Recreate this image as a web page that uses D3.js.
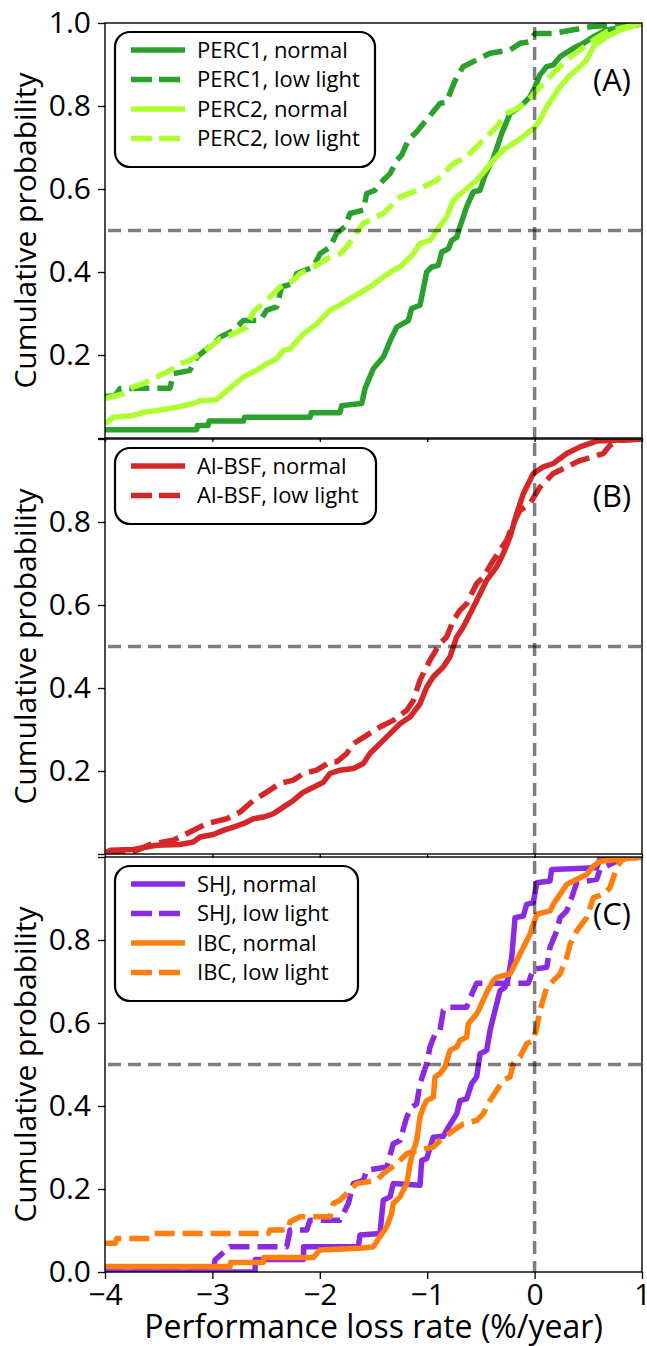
<!DOCTYPE html>
<html>
<head>
<meta charset="utf-8">
<script src="https://cdn.jsdelivr.net/npm/d3@7"></script>
<style>
  body { margin: 0; background: #fff; }
  text { font-family: "Open Sans", sans-serif; fill: #000; }
</style>
</head>
<body>
<svg width="647" height="1346"></svg>
<script>
// values, [performance loss rate, cumulative probability]
var perc1Normal = [[-4,0.020],[-3.146,0.020],[-3.14,0.030],[-3.04,0.030],[-3.03,0.041],[-2.71,0.041],[-2.70,0.050],[-2.09,0.050],[-2.08,0.061],[-1.812,0.061],[-1.796,0.078],[-1.61,0.083],[-1.579,0.119],[-1.502,0.167],[-1.409,0.195],[-1.330,0.243],[-1.284,0.267],[-1.176,0.283],[-1.145,0.312],[-1.067,0.320],[-1.005,0.400],[-0.958,0.412],[-0.897,0.416],[-0.865,0.448],[-0.803,0.456],[-0.772,0.476],[-0.725,0.484],[-0.695,0.509],[-0.633,0.557],[-0.571,0.593],[-0.508,0.597],[-0.462,0.633],[-0.384,0.674],[-0.306,0.734],[-0.229,0.782],[-0.136,0.798],[-0.043,0.822],[0.004,0.846],[0.050,0.875],[0.113,0.895],[0.174,0.899],[0.237,0.919],[0.360,0.939],[0.454,0.951],[0.547,0.967],[0.671,0.983],[0.951,0.995],[1.0,1.0]];
var perc1Low = [[-4,0.100],[-3.907,0.102],[-3.860,0.119],[-3.395,0.120],[-3.364,0.155],[-3.209,0.163],[-3.146,0.195],[-2.992,0.227],[-2.929,0.243],[-2.805,0.259],[-2.712,0.283],[-2.557,0.283],[-2.494,0.308],[-2.401,0.316],[-2.355,0.364],[-2.246,0.373],[-2.215,0.396],[-2.060,0.412],[-1.998,0.444],[-1.905,0.460],[-1.843,0.493],[-1.765,0.509],[-1.719,0.541],[-1.595,0.549],[-1.563,0.589],[-1.486,0.597],[-1.409,0.621],[-1.346,0.637],[-1.284,0.669],[-1.237,0.682],[-1.176,0.718],[-1.098,0.738],[-0.958,0.782],[-0.881,0.806],[-0.818,0.810],[-0.772,0.842],[-0.725,0.870],[-0.664,0.895],[-0.539,0.911],[-0.415,0.927],[-0.229,0.935],[-0.136,0.951],[-0.043,0.955],[0.004,0.975],[0.174,0.975],[0.516,0.991],[1.0,1.0]];
var perc2Normal = [[-4,0.034],[-3.922,0.050],[-3.736,0.054],[-3.643,0.062],[-3.519,0.066],[-3.332,0.074],[-3.178,0.083],[-3.115,0.090],[-2.960,0.092],[-2.898,0.107],[-2.805,0.127],[-2.712,0.147],[-2.588,0.163],[-2.494,0.179],[-2.401,0.191],[-2.340,0.211],[-2.277,0.215],[-2.153,0.251],[-2.029,0.275],[-1.905,0.308],[-1.843,0.316],[-1.688,0.340],[-1.533,0.364],[-1.409,0.388],[-1.316,0.404],[-1.253,0.412],[-1.129,0.444],[-1.067,0.469],[-0.974,0.476],[-0.897,0.505],[-0.818,0.533],[-0.757,0.573],[-0.633,0.601],[-0.539,0.621],[-0.384,0.669],[-0.291,0.694],[-0.198,0.710],[-0.105,0.726],[0.004,0.750],[0.050,0.766],[0.113,0.798],[0.174,0.822],[0.237,0.846],[0.314,0.870],[0.423,0.895],[0.485,0.911],[0.547,0.943],[0.671,0.967],[0.795,0.983],[1.0,1.0]];
var perc2Low = [[-4,0.095],[-3.829,0.107],[-3.736,0.123],[-3.643,0.131],[-3.550,0.143],[-3.395,0.163],[-3.302,0.179],[-3.209,0.187],[-3.115,0.203],[-3.022,0.219],[-2.929,0.239],[-2.805,0.251],[-2.681,0.267],[-2.619,0.304],[-2.494,0.332],[-2.371,0.364],[-2.246,0.380],[-2.184,0.396],[-2.060,0.412],[-1.905,0.436],[-1.812,0.444],[-1.750,0.460],[-1.688,0.484],[-1.595,0.517],[-1.409,0.541],[-1.346,0.557],[-1.253,0.581],[-1.129,0.593],[-1.005,0.609],[-0.912,0.621],[-0.850,0.637],[-0.757,0.661],[-0.633,0.678],[-0.539,0.702],[-0.446,0.726],[-0.353,0.750],[-0.260,0.782],[-0.136,0.798],[-0.043,0.818],[0.050,0.846],[0.174,0.879],[0.299,0.911],[0.423,0.935],[0.547,0.959],[0.671,0.979],[1.0,1.0]];

var bsfNormal = [[-4,0.002],[-3.953,0.009],[-3.736,0.011],[-3.612,0.017],[-3.519,0.021],[-3.302,0.023],[-3.178,0.029],[-3.115,0.041],[-2.992,0.047],[-2.898,0.057],[-2.805,0.065],[-2.712,0.073],[-2.619,0.085],[-2.526,0.089],[-2.433,0.097],[-2.340,0.113],[-2.246,0.129],[-2.153,0.149],[-2.060,0.161],[-1.967,0.173],[-1.905,0.194],[-1.812,0.202],[-1.688,0.206],[-1.595,0.218],[-1.533,0.242],[-1.440,0.266],[-1.346,0.290],[-1.253,0.314],[-1.160,0.330],[-1.067,0.362],[-1.005,0.402],[-0.943,0.427],[-0.850,0.451],[-0.788,0.475],[-0.725,0.523],[-0.664,0.547],[-0.601,0.579],[-0.539,0.611],[-0.446,0.660],[-0.353,0.692],[-0.291,0.724],[-0.229,0.764],[-0.167,0.820],[-0.105,0.868],[-0.012,0.917],[0.081,0.933],[0.174,0.941],[0.299,0.965],[0.423,0.981],[0.578,0.995],[1.0,1.0]];
var bsfLow = [[-4,0.0],[-3.736,0.005],[-3.581,0.023],[-3.364,0.033],[-3.240,0.049],[-3.054,0.073],[-2.867,0.085],[-2.743,0.101],[-2.619,0.129],[-2.494,0.149],[-2.371,0.170],[-2.246,0.178],[-2.153,0.194],[-2.029,0.202],[-1.905,0.222],[-1.843,0.222],[-1.750,0.242],[-1.688,0.266],[-1.564,0.286],[-1.440,0.306],[-1.316,0.322],[-1.191,0.346],[-1.129,0.370],[-1.067,0.419],[-0.974,0.467],[-0.881,0.507],[-0.819,0.523],[-0.757,0.563],[-0.695,0.587],[-0.633,0.603],[-0.539,0.652],[-0.478,0.667],[-0.384,0.708],[-0.322,0.732],[-0.260,0.756],[-0.198,0.796],[-0.136,0.828],[-0.043,0.844],[0.050,0.884],[0.174,0.917],[0.299,0.933],[0.423,0.948],[0.640,0.965],[0.702,0.985],[0.795,0.997],[1.0,1.0]];

var shjNormal = [[-4,0.0],[-2.603,0.0],[-2.600,0.030],[-2.153,0.030],[-2.150,0.061],[-1.641,0.061],[-1.626,0.089],[-1.440,0.093],[-1.409,0.173],[-1.346,0.181],[-1.316,0.213],[-1.067,0.209],[-1.051,0.269],[-1.005,0.273],[-0.943,0.325],[-0.850,0.327],[-0.803,0.349],[-0.725,0.381],[-0.695,0.413],[-0.633,0.417],[-0.586,0.454],[-0.539,0.470],[-0.508,0.526],[-0.446,0.534],[-0.415,0.582],[-0.369,0.630],[-0.322,0.678],[-0.276,0.686],[-0.245,0.710],[-0.213,0.758],[-0.182,0.854],[-0.105,0.858],[-0.074,0.886],[-0.012,0.890],[0.020,0.938],[0.143,0.942],[0.159,0.970],[0.578,0.974],[0.609,0.997],[1.0,1.0]];
var shjLow = [[-4,0.0],[-2.992,0.0],[-2.976,0.029],[-2.836,0.061],[-2.308,0.061],[-2.277,0.101],[-2.122,0.101],[-2.091,0.125],[-1.812,0.125],[-1.734,0.165],[-1.688,0.213],[-1.595,0.221],[-1.564,0.245],[-1.377,0.253],[-1.316,0.309],[-1.253,0.317],[-1.191,0.373],[-1.145,0.397],[-1.098,0.405],[-1.067,0.454],[-1.005,0.502],[-0.974,0.542],[-0.927,0.574],[-0.881,0.582],[-0.850,0.630],[-0.818,0.638],[-0.633,0.638],[-0.571,0.678],[-0.539,0.696],[-0.058,0.696],[-0.012,0.730],[0.113,0.734],[0.143,0.782],[0.206,0.822],[0.237,0.854],[0.299,0.870],[0.345,0.902],[0.392,0.938],[0.578,0.946],[0.609,0.970],[0.795,0.994],[1.0,1.0]];
var ibcNormal = [[-4,0.013],[-2.836,0.013],[-2.830,0.023],[-2.526,0.023],[-2.520,0.035],[-2.060,0.035],[-2.000,0.053],[-1.626,0.057],[-1.502,0.061],[-1.440,0.085],[-1.377,0.109],[-1.331,0.141],[-1.316,0.165],[-1.253,0.181],[-1.191,0.213],[-1.160,0.261],[-1.129,0.293],[-1.098,0.317],[-1.067,0.373],[-1.036,0.397],[-1.005,0.413],[-0.943,0.421],[-0.927,0.470],[-0.881,0.478],[-0.834,0.494],[-0.788,0.534],[-0.725,0.542],[-0.695,0.558],[-0.633,0.566],[-0.617,0.598],[-0.539,0.622],[-0.508,0.638],[-0.446,0.674],[-0.384,0.702],[-0.353,0.710],[-0.229,0.718],[-0.167,0.750],[-0.105,0.782],[-0.043,0.814],[0.020,0.862],[0.143,0.870],[0.174,0.886],[0.237,0.910],[0.299,0.934],[0.423,0.950],[0.485,0.958],[0.547,0.978],[0.609,0.990],[1.0,1.0]];
var ibcLow = [[-4,0.069],[-3.905,0.069],[-3.891,0.081],[-3.581,0.081],[-3.550,0.093],[-2.480,0.093],[-2.464,0.101],[-2.300,0.101],[-2.277,0.121],[-2.184,0.133],[-1.905,0.133],[-1.874,0.165],[-1.812,0.173],[-1.657,0.213],[-1.470,0.221],[-1.409,0.237],[-1.284,0.261],[-1.191,0.285],[-1.098,0.293],[-0.943,0.301],[-0.881,0.317],[-0.757,0.341],[-0.664,0.357],[-0.539,0.365],[-0.478,0.381],[-0.415,0.413],[-0.353,0.438],[-0.291,0.462],[-0.229,0.470],[-0.198,0.502],[-0.136,0.518],[-0.074,0.550],[-0.012,0.558],[0.020,0.590],[0.050,0.630],[0.113,0.686],[0.174,0.702],[0.237,0.718],[0.299,0.758],[0.330,0.790],[0.392,0.822],[0.485,0.854],[0.547,0.902],[0.640,0.910],[0.702,0.926],[0.764,0.974],[0.826,0.998],[1.0,1.0]];

var xTicks = [-4, -3, -2, -1, 0, 1];
var yTicksA = [0.2, 0.4, 0.6, 0.8, 1.0];
var yTicksB = [0.2, 0.4, 0.6, 0.8];
var yTicksC = [0.0, 0.2, 0.4, 0.6, 0.8];

var svg = d3.select("svg");
var left = 105, right = 642, ph = 415;

var x = d3.scaleLinear().domain([-4, 1]).range([left, right]);

var panels = [
  { top: 23, tag: "(A)", ticks: yTicksA, legW: 260, series: [
    { name: "PERC1, normal", data: perc1Normal, color: "#2ca02c", dash: false },
    { name: "PERC1, low light", data: perc1Low, color: "#2ca02c", dash: true },
    { name: "PERC2, normal", data: perc2Normal, color: "#adff2f", dash: false },
    { name: "PERC2, low light", data: perc2Low, color: "#adff2f", dash: true } ] },
  { top: 439, tag: "(B)", ticks: yTicksB, legW: 261, series: [
    { name: "Al-BSF, normal", data: bsfNormal, color: "#d62728", dash: false },
    { name: "Al-BSF, low light", data: bsfLow, color: "#d62728", dash: true } ] },
  { top: 857, tag: "(C)", ticks: yTicksC, legW: 243, series: [
    { name: "SHJ, normal", data: shjNormal, color: "#8a2be2", dash: false },
    { name: "SHJ, low light", data: shjLow, color: "#8a2be2", dash: true },
    { name: "IBC, normal", data: ibcNormal, color: "#ff7f0e", dash: false },
    { name: "IBC, low light", data: ibcLow, color: "#ff7f0e", dash: true } ] }
];

panels.forEach(function(p, i) {
  var y = d3.scaleLinear().domain([0, 1]).range([p.top + ph, p.top]);
  var g = svg.append("g");

  g.append("clipPath").attr("id", "clip" + i)
    .append("rect").attr("x", left).attr("y", p.top)
    .attr("width", right - left).attr("height", ph);

  var line = d3.line()
    .x(function(d) { return x(d[0]); })
    .y(function(d) { return y(d[1]); });

  var plot = g.append("g").attr("clip-path", "url(#clip" + i + ")");
  p.series.forEach(function(s) {
    plot.append("path")
      .attr("d", line(s.data))
      .attr("fill", "none")
      .attr("stroke", s.color)
      .attr("stroke-width", 5.5)
      .attr("stroke-linejoin", "round")
      .attr("stroke-dasharray", s.dash ? "20,8" : null);
  });

  // reference lines at median and zero
  plot.append("line")
    .attr("x1", x(-4)).attr("x2", x(1)).attr("y1", y(0.5)).attr("y2", y(0.5))
    .attr("stroke", "rgba(0,0,0,0.5)").attr("stroke-width", 3.5)
    .attr("stroke-dasharray", "13,7").attr("stroke-dashoffset", -3);
  plot.append("line")
    .attr("x1", x(0)).attr("x2", x(0)).attr("y1", y(1)).attr("y2", y(0))
    .attr("stroke", "rgba(0,0,0,0.5)").attr("stroke-width", 3.5)
    .attr("stroke-dasharray", "13,7").attr("stroke-dashoffset", -4);

  // axes
  var ya = g.append("g").attr("transform", "translate(" + left + ",0)")
    .call(d3.axisLeft(y).tickValues([0, 0.2, 0.4, 0.6, 0.8, 1.0]).tickSize(7).tickPadding(7)
      .tickFormat(function(d) {
        return p.ticks.some(function(t) { return Math.abs(t - d) < 1e-9; }) ? d3.format(".1f")(d) : "";
      }));
  ya.select(".domain").remove();
  ya.selectAll("text").style("font-size", "30px").style("font-family", "'Open Sans', sans-serif");
  ya.selectAll("line").attr("stroke-width", 1.3);

  var xa = g.append("g").attr("transform", "translate(0," + (p.top + ph) + ")")
    .call(d3.axisBottom(x).tickValues(xTicks).tickSize(i == 2 ? 7 : 4).tickPadding(5)
      .tickFormat(i == 2 ? d3.format("d") : ""));
  xa.select(".domain").remove();
  xa.selectAll("text").style("font-size", "30px").style("font-family", "'Open Sans', sans-serif");
  xa.selectAll("line").attr("stroke-width", 1.3);

  g.append("rect")
    .attr("x", left).attr("y", p.top).attr("width", right - left).attr("height", ph)
    .attr("fill", "none").attr("stroke", "#000").attr("stroke-width", 1.4);

  g.append("text")
    .attr("transform", "translate(36," + (p.top + ph / 2) + ") rotate(-90)")
    .attr("text-anchor", "middle")
    .style("font-size", "30px")
    .text("Cumulative probability");

  g.append("text")
    .attr("x", 612).attr("y", p.top + 68)
    .attr("text-anchor", "middle")
    .style("font-size", "31px")
    .text(p.tag);

  // legend
  var rowH = 29.5;
  var lg = g.append("g").attr("transform", "translate(115," + (p.top + 9) + ")");
  lg.append("rect")
    .attr("width", p.legW).attr("height", p.series.length * rowH + 17)
    .attr("rx", 15).attr("ry", 15)
    .attr("fill", "#fff").attr("stroke", "#000").attr("stroke-width", 2.2);
  p.series.forEach(function(s, k) {
    var ry = 18 + k * rowH;
    lg.append("line")
      .attr("x1", 16).attr("x2", 70).attr("y1", ry).attr("y2", ry)
      .attr("stroke", s.color).attr("stroke-width", 5.5)
      .attr("stroke-dasharray", s.dash ? "21,7" : null);
    lg.append("text")
      .attr("x", 82).attr("y", ry).attr("dy", "0.35em")
      .style("font-size", "22px")
      .text(s.name);
  });
});

svg.append("text")
  .attr("x", (left + right) / 2).attr("y", 1338)
  .attr("text-anchor", "middle")
  .style("font-size", "32px")
  .text("Performance loss rate (%/year)");
</script>
</body>
</html>
